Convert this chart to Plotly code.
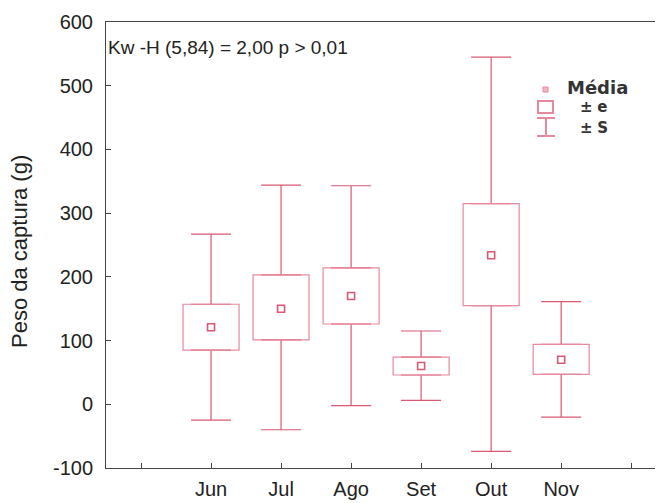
import plotly.graph_objects as go

months = ["Jun", "Jul", "Ago", "Set", "Out", "Nov"]
positions = [1, 2, 3, 4, 5, 6]
mean_vals = [121, 150, 170, 60, 234, 70]
se_low = [85, 101, 126, 46, 155, 47]
se_high = [157, 203, 214, 74, 315, 94]
sd_low = [-25, -40, -2, 6, -74, -20]
sd_high = [267, 344, 343, 115, 545, 161]

x_tick_vals = [0, 1, 2, 3, 4, 5, 6, 7]
x_tick_text = [""] + months + [""]
y_tick_vals = [-100, 0, 100, 200, 300, 400, 500, 600]
y_tick_text = ["-100", "0", "100", "200", "300", "400", "500", "600"]

W, H = 657, 503
L, R, T, B = 106, 2, 22, 35
pw, ph = W - L - R, H - T - B

def px(x):
    return (x - L) / pw

def py(y):
    return (H - B - y) / ph

red = "#DA5872"
pink = "#E7899B"
font_main = "Liberation Sans, Arial"
box_half = 0.4

fig = go.Figure()
# upper whiskers (+S)
fig.add_trace(go.Scatter(
    x=positions, y=se_high, mode="markers",
    marker=dict(size=1, color="rgba(0,0,0,0)"),
    error_y=dict(type="data", symmetric=False,
                 array=[h - s for h, s in zip(sd_high, se_high)],
                 arrayminus=[0] * len(positions),
                 color=red, thickness=1.2, width=20),
    showlegend=False, hoverinfo="skip",
))
# lower whiskers (-S)
fig.add_trace(go.Scatter(
    x=positions, y=se_low, mode="markers",
    marker=dict(size=1, color="rgba(0,0,0,0)"),
    error_y=dict(type="data", symmetric=False,
                 array=[0] * len(positions),
                 arrayminus=[s - l for s, l in zip(se_low, sd_low)],
                 color=red, thickness=1.2, width=20),
    showlegend=False, hoverinfo="skip",
))
# means
fig.add_trace(go.Scatter(
    x=positions, y=mean_vals, mode="markers",
    marker=dict(symbol="square-open", size=7, color=red, line=dict(width=1.6, color=red)),
    showlegend=False,
))

shapes = []
# +/- e boxes
for p, lo, hi in zip(positions, se_low, se_high):
    shapes.append(dict(type="rect", xref="x", yref="y",
                       x0=p - box_half, x1=p + box_half, y0=lo, y1=hi,
                       line=dict(color=pink, width=1.2), fillcolor="rgba(0,0,0,0)",
                       layer="above"))
# legend icons
shapes.append(dict(type="rect", xref="paper", yref="paper",
                   x0=px(543), x1=px(548), y0=py(92), y1=py(87),
                   line=dict(color=pink, width=1), fillcolor="#F2B5C0"))
shapes.append(dict(type="rect", xref="paper", yref="paper",
                   x0=px(538), x1=px(553), y0=py(113), y1=py(101),
                   line=dict(color=pink, width=2), fillcolor="rgba(0,0,0,0)"))
shapes.append(dict(type="line", xref="paper", yref="paper",
                   x0=px(537), x1=px(555), y0=py(118), y1=py(118),
                   line=dict(color=pink, width=2)))
shapes.append(dict(type="line", xref="paper", yref="paper",
                   x0=px(546), x1=px(546), y0=py(118), y1=py(136),
                   line=dict(color=pink, width=2)))
shapes.append(dict(type="line", xref="paper", yref="paper",
                   x0=px(537), x1=px(555), y0=py(136), y1=py(136),
                   line=dict(color=pink, width=2)))

annotations = [
    dict(text="Kw -H (5,84) = 2,00 p > 0,01", xref="paper", yref="paper",
         x=px(106), y=py(47), xanchor="left", yanchor="middle", showarrow=False,
         font=dict(family=font_main, size=19, color="#222")),
    dict(text="Peso da captura (g)", xref="paper", yref="paper",
         x=px(20), y=py(252), xanchor="center", yanchor="middle", showarrow=False,
         textangle=-90, font=dict(family=font_main, size=22, color="#222")),
    dict(text="<b>Média</b>", xref="paper", yref="paper",
         x=px(565), y=py(88), xanchor="left", yanchor="middle", showarrow=False,
         font=dict(family="DejaVu Sans", size=18, color="#333")),
    dict(text="<b>±</b> <b>e</b>", xref="paper", yref="paper",
         x=px(578), y=py(107), xanchor="left", yanchor="middle", showarrow=False,
         font=dict(family="DejaVu Sans", size=15, color="#333")),
    dict(text="<b>±</b> <b>S</b>", xref="paper", yref="paper",
         x=px(578), y=py(128), xanchor="left", yanchor="middle", showarrow=False,
         font=dict(family="DejaVu Sans", size=15, color="#333")),
]

fig.update_layout(
    width=W, height=H,
    margin=dict(l=L, r=R, t=T, b=B),
    paper_bgcolor="white", plot_bgcolor="white",
    shapes=shapes, annotations=annotations,
    font=dict(family=font_main, color="#222"),
    xaxis=dict(range=[-0.5, 7.34], tickvals=x_tick_vals, ticktext=x_tick_text,
               showgrid=False, zeroline=False, showline=True, linecolor="#444",
               linewidth=1, mirror=True, ticks="inside", ticklen=5, tickcolor="#444",
               tickfont=dict(size=20, color="#222"), ticklabelstandoff=3),
    yaxis=dict(range=[-100, 600], tickvals=y_tick_vals, ticktext=y_tick_text,
               showgrid=False, zeroline=False,
               showline=True, linecolor="#444", linewidth=1, ticks="inside",
               ticklen=5, tickcolor="#444", tickfont=dict(size=20, color="#222"),
               ticklabelstandoff=8),
)

fig.write_html("out.html")
